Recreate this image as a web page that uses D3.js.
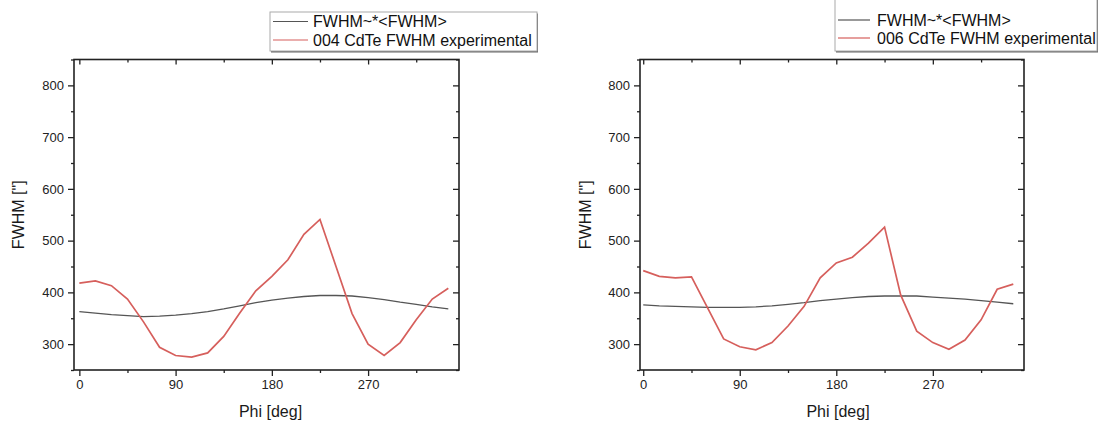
<!DOCTYPE html>
<html>
<head>
<meta charset="utf-8">
<script src="https://cdn.jsdelivr.net/npm/d3@7"></script>
<style>
  body { margin: 0; background: #fff; }
  svg { display: block; font-family: "Liberation Sans", Arial, sans-serif; }
</style>
</head>
<body>
<script>
// phi angles (deg), 15 deg steps
var phi = [0,15,30,45,60,75,90,105,120,135,150,165,180,195,210,225,240,255,270,285,300,315,330,345];

// 004 reflection
var model004 = [363,360,357,355,353,354,356,359,363,368,374,380,385,389,392,394,394,393,390,386,381,377,372,368];
var exp004   = [418,422,413,387,343,294,278,275,283,315,360,403,431,463,512,541,450,359,300,278,303,347,387,408];

// 006 reflection
var model006 = [376,374,373,372,371,371,371,372,374,377,380,384,387,390,392,393,393,393,391,389,387,384,381,378];
var exp006   = [442,431,428,430,370,310,295,289,303,335,373,428,457,468,495,526,395,325,303,290,308,347,406,416];

var xMajor = [0, 90, 180, 270];
var xMinor = [45, 135, 225, 315];
var yMajor = [300, 400, 500, 600, 700, 800];
var yMinor = [250, 350, 450, 550, 650, 750, 850];

var legendModel = "FWHM~*<FWHM>";
var legend004 = "004 CdTe FWHM experimental";
var legend006 = "006 CdTe FWHM experimental";

var svg = d3.select("body").append("svg")
    .attr("width", 1104)
    .attr("height", 421);

function drawPanel(p){
    var x = d3.scaleLinear().domain(p.xDomain).range([p.left, p.right]);
    var y = d3.scaleLinear().domain([250, 850]).range([p.bottom, p.top]);
    var g = svg.append("g");

    // ticks outside on bottom/left
    var xAxis = d3.axisBottom(x).tickValues(xMajor).tickSize(6).tickPadding(4);
    var xAxisMinor = d3.axisBottom(x).tickValues(xMinor).tickSize(3).tickFormat("");
    var yAxis = d3.axisLeft(y).tickValues(yMajor).tickSize(6).tickPadding(4);
    var yAxisMinor = d3.axisLeft(y).tickValues(yMinor).tickSize(3).tickFormat("");

    g.append("g").attr("transform", "translate(0," + p.bottom + ")").call(xAxis);
    g.append("g").attr("transform", "translate(0," + p.bottom + ")").call(xAxisMinor);
    g.append("g").attr("transform", "translate(" + p.left + ",0)").call(yAxis);
    g.append("g").attr("transform", "translate(" + p.left + ",0)").call(yAxisMinor);

    // mirrored ticks inside on top/right
    g.append("g").attr("transform", "translate(0," + p.top + ")")
        .call(d3.axisBottom(x).tickValues(xMajor).tickSize(5).tickFormat(""));
    g.append("g").attr("transform", "translate(0," + p.top + ")")
        .call(d3.axisBottom(x).tickValues(xMinor).tickSize(3).tickFormat(""));
    g.append("g").attr("transform", "translate(" + p.right + ",0)")
        .call(d3.axisLeft(y).tickValues(yMajor).tickSize(6).tickFormat(""));
    g.append("g").attr("transform", "translate(" + p.right + ",0)")
        .call(d3.axisLeft(y).tickValues(yMinor).tickSize(3).tickFormat(""));

    g.selectAll(".domain").remove();
    g.selectAll(".tick line").attr("stroke", "#222").attr("stroke-width", 1.3);
    g.selectAll(".tick text")
        .attr("font-size", "13px")
        .attr("fill", "#222")
        .attr("font-family", "Liberation Sans, Arial, sans-serif");

    g.append("rect")
        .attr("x", p.left).attr("y", p.top)
        .attr("width", p.right - p.left).attr("height", p.bottom - p.top)
        .attr("fill", "none")
        .attr("stroke", "#222")
        .attr("stroke-width", 1.6);

    var line = d3.line()
        .x(function(d, i){ return x(phi[i]); })
        .y(function(d){ return y(d); });

    g.append("path").datum(p.model)
        .attr("d", line)
        .attr("fill", "none")
        .attr("stroke", "#555")
        .attr("stroke-width", 1.3);

    g.append("path").datum(p.exp)
        .attr("d", line)
        .attr("fill", "none")
        .attr("stroke", "#d65f5c")
        .attr("stroke-width", 1.7);

    // axis titles
    g.append("text")
        .attr("transform", "translate(" + p.yLabelX + "," + ((p.top + p.bottom) / 2) + ")rotate(-90)")
        .attr("text-anchor", "middle")
        .attr("dy", "0.35em")
        .attr("font-size", "16px")
        .attr("fill", "#1a1a1a")
        .text("FWHM [\"]");

    g.append("text")
        .attr("x", (p.left + p.right) / 2 + p.xLabelShift)
        .attr("y", 411)
        .attr("dy", "0.35em")
        .attr("text-anchor", "middle")
        .attr("font-size", "16px")
        .attr("fill", "#1a1a1a")
        .text("Phi [deg]");

    // legend box, with a darker shadow edge along the bottom
    var lg = svg.append("g");
    lg.append("rect")
        .attr("x", p.legX + 1).attr("y", p.legY + 1.5)
        .attr("width", p.legW).attr("height", p.legH)
        .attr("fill", "#666");
    lg.append("rect")
        .attr("x", p.legX).attr("y", p.legY)
        .attr("width", p.legW).attr("height", p.legH)
        .attr("fill", "#fff")
        .attr("stroke", "#aaa")
        .attr("stroke-width", 1);

    var rows = [{label: legendModel, color: "#555", y: p.row1}, {label: p.expLabel, color: "#d65f5c", y: p.row2}];
    rows.forEach(function(r){
        lg.append("line")
            .attr("x1", p.legX + 3).attr("x2", p.legX + p.sampleW)
            .attr("y1", r.y).attr("y2", r.y)
            .attr("stroke", r.color)
            .attr("stroke-width", 1.2);
        lg.append("text")
            .attr("x", p.legX + p.textOff)
            .attr("y", r.y)
            .attr("dy", "0.35em")
            .attr("font-size", "16px")
            .attr("fill", "#111")
            .text(r.label);
    });
}

drawPanel({
    left: 74, right: 459, top: 59.5, bottom: 370,
    xDomain: [-5, 355],
    model: model004, exp: exp004, expLabel: legend004,
    yLabelX: 18, xLabelShift: 4,
    legX: 270, legY: 12, legW: 267, legH: 39,
    row1: 21.5, row2: 40, sampleW: 38, textOff: 43
});

drawPanel({
    left: 640, right: 1024, top: 59.5, bottom: 370,
    xDomain: [-3, 355],
    model: model006, exp: exp006, expLabel: legend006,
    yLabelX: 585, xLabelShift: 6,
    legX: 835, legY: -2, legW: 262, legH: 53,
    row1: 20, row2: 38, sampleW: 35, textOff: 42
});
</script>
</body>
</html>
